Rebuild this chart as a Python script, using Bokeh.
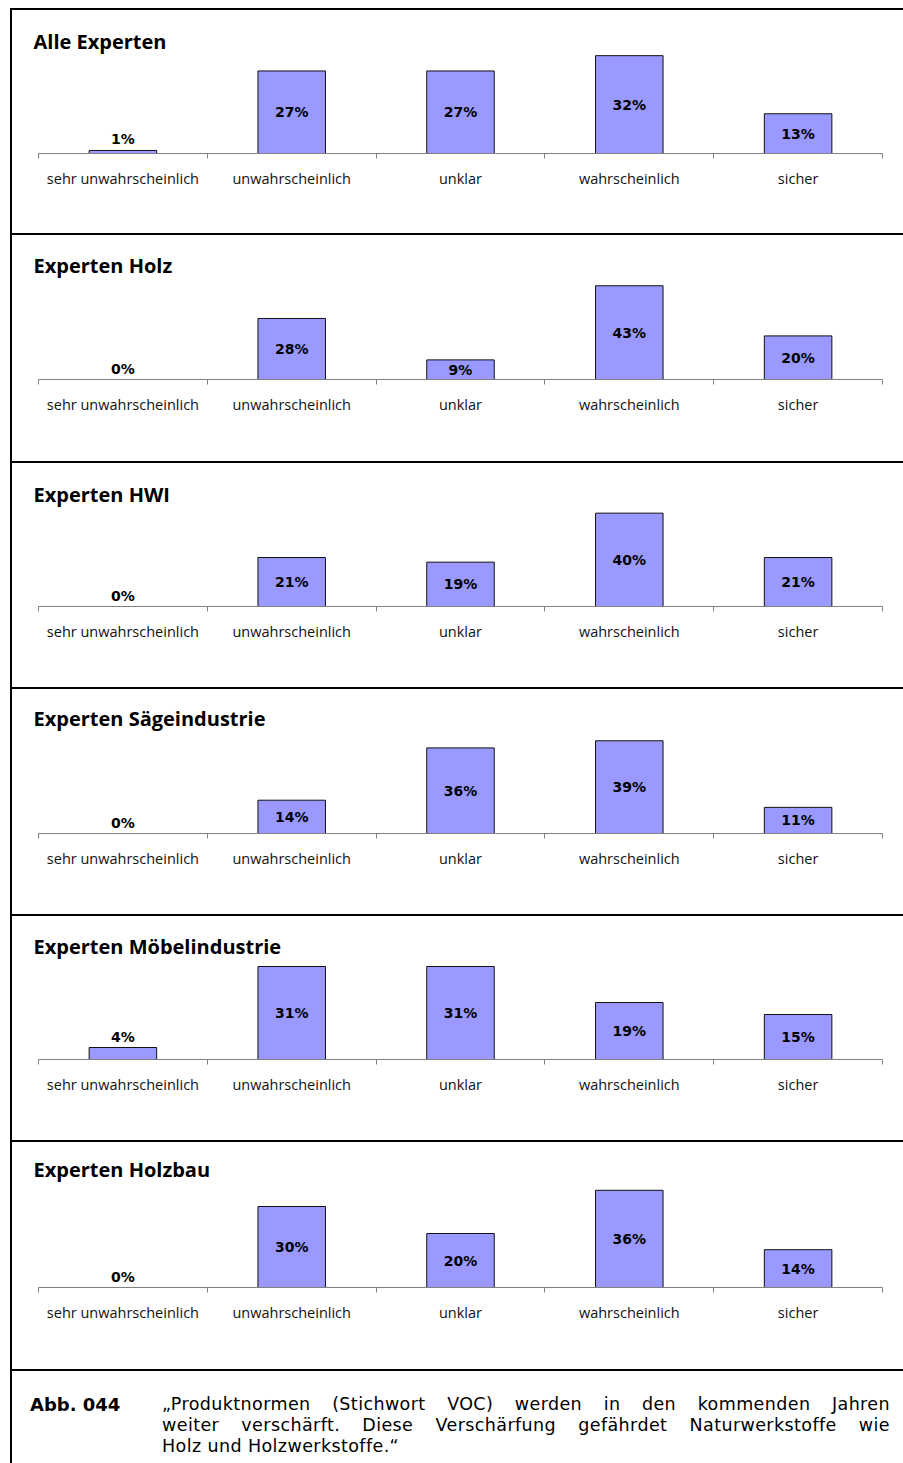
from bokeh.plotting import figure
from bokeh.models import (Range1d, FixedTicker, Label, Div, Spacer, ColumnDataSource)
from bokeh.layouts import column, row
from bokeh.core.properties import value
from bokeh.embed import file_html
from bokeh.resources import INLINE

# ---------------- data ----------------
categories = ["sehr unwahrscheinlich", "unwahrscheinlich", "unklar",
              "wahrscheinlich", "sicher"]
panel_titles = ["Alle Experten", "Experten Holz", "Experten HWI",
                "Experten Sägeindustrie", "Experten Möbelindustrie",
                "Experten Holzbau"]
alle_experten = [1, 27, 27, 32, 13]
experten_holz = [0, 28, 9, 43, 20]
experten_hwi = [0, 21, 19, 40, 21]
experten_saege = [0, 14, 36, 39, 11]
experten_moebel = [4, 31, 31, 19, 15]
experten_holzbau = [0, 30, 20, 36, 14]
axis_max = [35, 50, 45, 45, 35, 40]
caption_label = "Abb. 044"
caption_lines = [
    "„Produktnormen (Stichwort VOC) werden in den kommenden Jahren",
    "weiter verschärft. Diese Verschärfung gefährdet Naturwerkstoffe wie",
    "Holz und Holzwerkstoffe.“",
]

series = [alle_experten, experten_holz, experten_hwi, experten_saege,
          experten_moebel, experten_holzbau]

# ---------------- layout constants ----------------
PANEL_W = 891
LEFT_PAD = 26          # px from panel left edge to first category boundary
RIGHT_PAD = 21         # px from last category boundary to panel right edge
panel_heights = [223, 226, 224, 225, 224, 227]
axis_offsets = [143, 144, 143, 144, 143, 145]
frame_heights = [107, 109, 105, 107, 105, 108]
title_offsets = [31, 30, 31, 29, 30, 27]
CAPTION_H = 92
BAR_FILL = "#9999FF"
AXIS_COLOR = "#808080"


def hline():
    return Div(width=PANEL_W, height=2, margin=0,
               styles={"background-color": "#000000"})


def make_panel(i):
    vals = series[i]
    ph, ao, fh, ymax = panel_heights[i], axis_offsets[i], frame_heights[i], axis_max[i]
    n = len(categories)
    frame_w = PANEL_W - RIGHT_PAD
    px_per_cat = (frame_w - LEFT_PAD) / n
    x_start = -LEFT_PAD / px_per_cat
    y_end = ymax * ao / fh
    p = figure(width=PANEL_W, height=ph, output_backend="svg",
               toolbar_location=None, x_range=Range1d(x_start, n),
               y_range=Range1d(0, y_end), y_axis_location=None,
               min_border_left=0, min_border_right=RIGHT_PAD,
               min_border_top=0, min_border_bottom=ph - ao,
               background_fill_color="white", border_fill_color="white")
    p.outline_line_color = None
    p.xgrid.visible = False
    p.ygrid.visible = False

    centers = [k + 0.5 for k in range(n)]
    p.vbar(x=centers, top=vals, width=0.4, bottom=0,
           fill_color=BAR_FILL, line_color="#111111", line_width=1)

    px_per_unit = fh / ymax
    big = dict(x=[], y=[], t=[])
    small = dict(x=[], y=[], t=[])
    for c, v in zip(centers, vals):
        if v * px_per_unit >= 16:
            big["x"].append(c); big["y"].append(v / 2); big["t"].append(f"{v}%")
        else:
            small["x"].append(c); small["y"].append(v); small["t"].append(f"{v}%")
    common = dict(text_font=value("DejaVu Sans"), text_font_style="bold",
                  text_font_size="14px", text_color="#000000",
                  text_align="center")
    if big["x"]:
        p.text(x="x", y="y", text="t", source=ColumnDataSource(big),
               text_baseline="middle", **common)
    if small["x"]:
        p.text(x="x", y="y", text="t", source=ColumnDataSource(small),
               text_baseline="bottom", y_offset=-3, **common)

    ax = p.xaxis[0]
    ax.bounds = (0, n)
    ax.ticker = FixedTicker(ticks=centers, minor_ticks=list(range(n + 1)))
    ax.major_label_overrides = {c: name for c, name in zip(centers, categories)}
    ax.axis_line_color = AXIS_COLOR
    ax.axis_line_width = 1
    ax.major_tick_line_color = None
    ax.major_tick_out = 0
    ax.major_tick_in = 0
    ax.minor_tick_line_color = AXIS_COLOR
    ax.minor_tick_out = 5
    ax.minor_tick_in = 0
    ax.major_label_text_font = "Open Sans"
    ax.major_label_text_font_size = "14.5px"
    ax.major_label_text_color = "#111111"
    ax.major_label_standoff = 10

    p.add_layout(Label(x=21, y=ao - title_offsets[i], x_units="screen",
                       y_units="screen", text=panel_titles[i],
                       text_font="Open Sans", text_font_style="bold",
                       text_font_size="20px", text_color="#000000",
                       text_baseline="middle", text_align="left"))
    return p


items = [hline()]
for i in range(len(series)):
    items.append(make_panel(i))
    items.append(hline())

caption_html = (
    '<div style="position:relative;width:%dpx;height:%dpx;'
    "font-family:'DejaVu Sans';font-size:17.5px;line-height:21px;color:#000;\">"
    '<div style="position:absolute;left:18px;top:23px;font-weight:bold;font-size:18px;">%s</div>'
    '<div style="position:absolute;left:150px;top:23px;width:728px;text-align:justify;letter-spacing:0.4px;">'
    '<div style="text-align-last:justify;white-space:nowrap;">%s</div>'
    '<div style="text-align-last:justify;white-space:nowrap;">%s</div>'
    '<div style="white-space:nowrap;">%s</div>'
    '</div></div>'
) % (PANEL_W, CAPTION_H, caption_label, caption_lines[0], caption_lines[1],
     caption_lines[2])
items.append(Div(text=caption_html, width=PANEL_W, height=CAPTION_H, margin=0))

total_h = sum(panel_heights) + CAPTION_H + 2 * (len(series) + 1)
right = column(*items, spacing=0)
vline = Div(width=2, height=total_h, margin=0,
            styles={"background-color": "#000000"})
body = row(Spacer(width=10, height=total_h, margin=0), vline, right, spacing=0)
layout = column(Spacer(width=903, height=8, margin=0), body, spacing=0)

open("out.html", "w").write(file_html(layout, INLINE))
